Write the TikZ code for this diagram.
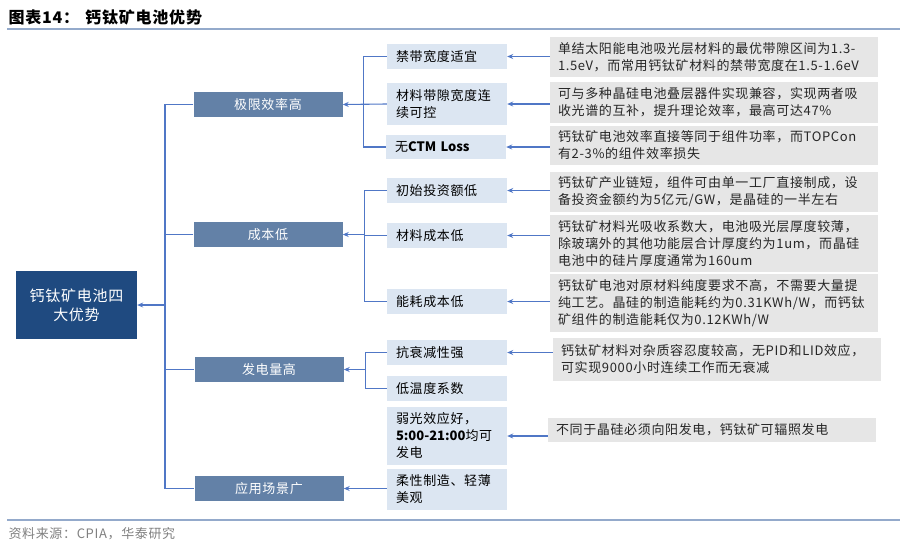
\documentclass[tikz,border=0pt]{standalone}
\usepackage{fontspec}
\setmainfont[LetterSpace=5]{Noto Sans CJK SC}
\usetikzlibrary{arrows.meta}

\definecolor{rootblue}{HTML}{1F4A80}
\definecolor{midblue}{HTML}{6381A7}
\definecolor{subblue}{HTML}{DCE6F2}
\definecolor{notegray}{HTML}{E6E6E6}
\definecolor{linkblue}{HTML}{5077C6}
\definecolor{rulegray}{HTML}{94AACB}

% latin runs without letter spacing
\newcommand\lat[1]{\mbox{\addfontfeatures{LetterSpace=0}\textbf{#1}}}

\tikzset{
	rootbox/.style={fill=rootblue,text=white,minimum width=121pt,minimum height=68pt,align=center,font=\fontsize{15}{19}\selectfont},
	midbox/.style={fill=midblue,text=white,minimum width=149pt,minimum height=25pt,font=\fontsize{13}{17}\selectfont},
	subbox/.style={fill=subblue,text=black,text width=102pt,inner xsep=9pt,inner ysep=2pt,align=left,font=\fontsize{13}{17}\selectfont},
	notebox/.style={fill=notegray,text=black!85,text width=312pt,inner xsep=8pt,inner ysep=2pt,align=left,font=\fontsize{13}{17}\selectfont},
	link/.style={draw=linkblue,line width=1.1pt},
	arr/.style={link,-{Stealth[length=6pt,width=5pt]}}
}

\begin{document}
\begin{tikzpicture}[x=1pt,y=-1pt]
	\useasboundingbox (0,0) rectangle (900,549);
	% title and source
	\node[anchor=west,font=\fontsize{16}{18}\selectfont\bfseries] (title) at (5,17) {图表14：\hspace{6pt}钙钛矿电池优势};
	\draw[rulegray,line width=1.3pt] (7,29) -- (900,29);
	\draw[rulegray,line width=2pt] (7,520) -- (900,520);
	\node[anchor=west,text=black!50,font=\fontsize{13}{16}\selectfont] (source) at (5,534) {资料来源：CPIA，华泰研究};
	
	% root and the four advantages
	\node[rootbox] (root) at (76.5,305) {钙钛矿电池四\\大优势};
	\node[midbox] (eff) at (268,104.5) {极限效率高};
	\node[midbox] (cost) at (268,234.5) {成本低};
	\node[midbox] (power) at (269,369.5) {发电量高};
	\node[midbox] (app) at (269,488.5) {应用场景广};
	
	% sub points
	\node[subbox,minimum height=25pt] (gap) at (447,56.5) {禁带宽度适宜};
	\node[subbox,minimum height=42pt] (tune) at (447,104) {材料带隙宽度连\\续可控};
	\node[subbox,minimum height=24pt] (ctm) at (446,147) {无\lat{CTM Loss}};
	\node[subbox,minimum height=25pt] (invest) at (447,190.5) {初始投资额低};
	\node[subbox,minimum height=25pt] (matl) at (447,235.5) {材料成本低};
	\node[subbox,minimum height=25pt] (energy) at (447,301.5) {能耗成本低};
	\node[subbox,minimum height=25pt] (decay) at (447,352.5) {抗衰减性强};
	\node[subbox,minimum height=25pt] (temp) at (447,388.5) {低温度系数};
	\node[subbox,minimum height=58pt] (weak) at (447,436) {弱光效应好，\\\lat{5:00-21:00}均可\\发电};
	\node[subbox,minimum height=41pt] (flex) at (447,489.5) {柔性制造、轻薄\\美观};
	
	% notes
	\node[notebox,minimum height=40pt] (dgap) at (714,57) {单结太阳能电池吸光层材料的最优带隙区间为1.3-\\1.5eV，而常用钙钛矿材料的禁带宽度在1.5-1.6eV};
	\node[notebox,minimum height=41pt] (dtune) at (714,102.5) {可与多种晶硅电池叠层器件实现兼容，实现两者吸\\收光谱的互补，提升理论效率，最高可达47\%};
	\node[notebox,minimum height=39pt] (dctm) at (714,145.5) {钙钛矿电池效率直接等同于组件功率，而TOPCon\\有2-3\%的组件效率损失};
	\node[notebox,minimum height=40pt] (dinvest) at (714,192) {钙钛矿产业链短，组件可由单一工厂直接制成，设\\备投资金额约为5亿元/GW，是晶硅的一半左右};
	\node[notebox,minimum height=57pt] (dmatl) at (714,243.5) {钙钛矿材料光吸收系数大，电池吸光层厚度较薄，\\除玻璃外的其他功能层合计厚度约为1um，而晶硅\\电池中的硅片厚度通常为160um};
	\node[notebox,minimum height=58pt] (denergy) at (714,303) {钙钛矿电池对原材料纯度要求不高，不需要大量提\\纯工艺。晶硅的制造能耗约为0.31KWh/W，而钙钛\\矿组件的制造能耗仅为0.12KWh/W};
	\node[notebox,minimum height=43pt] (ddecay) at (717,359.5) {钙钛矿材料对杂质容忍度较高，无PID和LID效应，\\可实现9000小时连续工作而无衰减};
	\node[notebox,minimum height=24pt] (dweak) at (712,430) {不同于晶硅必须向阳发电，钙钛矿可辐照发电};
	
	% notes to sub points
	\foreach \n/\s in {dgap/gap,dtune/tune,dctm/ctm,dinvest/invest,dmatl/matl,denergy/energy,ddecay/decay,dweak/weak}
		\draw[arr] (\n.west |- \s.east) -- (\s.east);
	
	% sub points to advantages
	\draw[link] (gap.west) -- ++(-23,0) coordinate (kA) |- (ctm.west);
	\draw[arr] (tune.west) -- (eff.east);
	\draw[link] (invest.west) -- ++(-22,0) coordinate (kB) |- (energy.west);
	\draw[link] (matl.west) -- (matl.west -| kB);
	\draw[arr] (kB |- cost.east) -- (cost.east);
	\draw[link] (decay.west) -- ++(-21,0) coordinate (kC) |- (temp.west);
	\draw[arr] (kC |- power.east) -- (power.east);
	\draw[arr] (flex.west |- app.east) -- (app.east);
	
	% advantages to root
	\coordinate (spine) at (165,305);
	\draw[link] (eff.west) -| (spine) |- (app.west);
	\draw[link] (cost.west) -- (cost.west -| spine);
	\draw[link] (power.west) -- (power.west -| spine);
	\draw[arr] (spine) -- (root.east);
\end{tikzpicture}
\end{document}
